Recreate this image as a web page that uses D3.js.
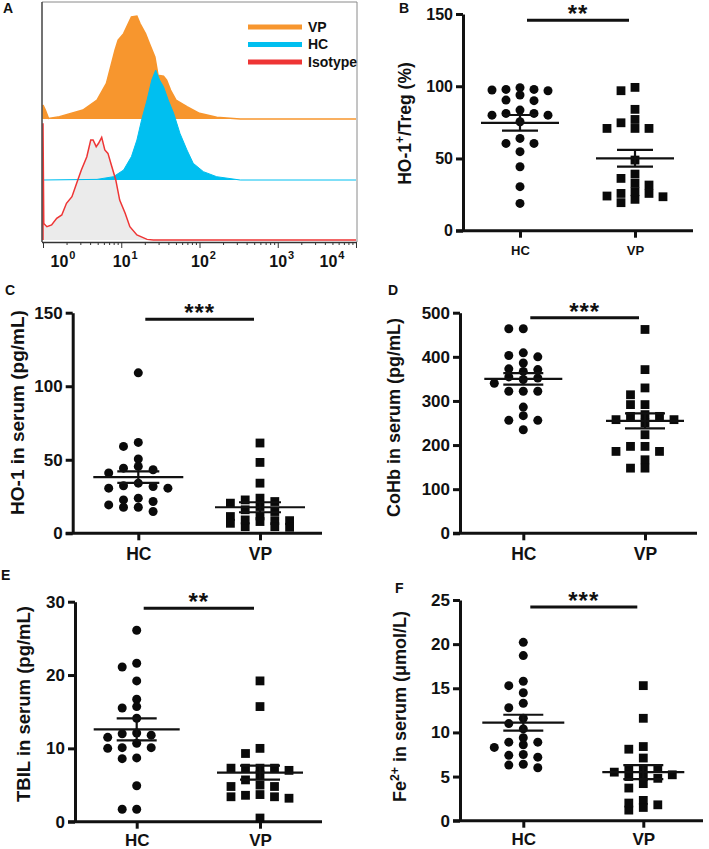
<!DOCTYPE html>
<html><head><meta charset="utf-8">
<script src="https://cdn.jsdelivr.net/npm/d3@7"></script>
<style>body{margin:0;background:#fff}svg{display:block}</style>
</head><body><svg id="c" width="709" height="849"></svg>
<script>
// ---------- Panel A data: [log10 fluorescence, relative count] ----------
const histVP = [[0,0],[0,13.5],[0.03,8.7],[0.07,0.6],[0.21,2.3],[0.51,8.7],[0.69,18.4],[0.81,34.5],[0.92,66.8],[0.96,76.5],[1.03,82.9],[1.09,92.6],[1.13,99],[1.20,100],[1.24,92.6],[1.31,82.9],[1.36,73.2],[1.43,60.3],[1.47,42.6],[1.54,41.6],[1.58,37.7],[1.63,28.1],[1.70,18.4],[1.84,11.9],[2.00,5.5],[2.22,1.6],[2.52,0],[4,0]];
const histHC = [[0,0],[0.69,0.6],[0.90,3.2],[1.03,9.7],[1.13,22.7],[1.20,38.8],[1.26,58.3],[1.33,77.7],[1.39,97.1],[1.44,106.8],[1.49,97.1],[1.54,90.6],[1.60,77.7],[1.67,64.7],[1.75,45.3],[1.84,29.1],[1.92,16.2],[2.05,8.1],[2.22,3.2],[2.52,0],[4,0]];
const histIso = [[0,0],[0,113.3],[0.01,16],[0.05,12.9],[0.11,14.6],[0.175,21],[0.24,24.3],[0.30,35.6],[0.37,42.1],[0.43,55],[0.49,68],[0.56,80.9],[0.61,97.1],[0.64,97.1],[0.68,90.6],[0.71,93.9],[0.75,99.7],[0.79,87.4],[0.83,84.1],[0.88,71.2],[0.93,58.3],[0.98,38.8],[1.05,25.9],[1.11,12.9],[1.20,4.9],[1.33,0.6],[1.41,0],[4,0]];
const histDecades = [0,1,2,3,4];
const legendLabels = ["VP","HC","Isotype"];

// ---------- Scatter panels data ----------
const categories = ["HC","VP"];

const bHC = [97.4,93.9,97.8,99,97.8,96.9,90,90.4,81.2,80,81.2,83.5,80,75.4,60.4,63.9,60.4,54.7,44.3,30.5,18.9];
const bVP = [99.2,96.9,84,74.7,70.8,70.8,70.8,77,48.9,39.2,32.8,31.6,36.2,25.8,23.5,19.4,25.8,21.7,24,27];
const bMean = [74.7,50.1], bSem = [5.4,5.8];
const bTicks = [0,50,100,150];

const cHC = [109.1,61.8,59.1,50.5,44.3,43.2,45.5,41,30.7,30.7,34.1,31.8,32.3,22.7,23.9,21.6,17.7,17.7,19.3,14.8];
const cVP = [61.4,48.2,34.1,21.6,18.2,22.7,23.9,8.6,11.4,14.8,11.8,8.6,4.5,4.5,4.1,8,6.8,9.1,20.5,16];
const cMean = [38.2,17.7], cSem = [3.9,3.4];
const cTicks = [0,50,100,150];

const dHC = [463.6,463.6,409,400,403,386,371,352,354.5,367,372.7,348.5,340,322,322,322,286,266.7,256,256,234.8];
const dVP = [462,371,329.5,314,291.7,291.7,257.6,265,265,257.6,269,223.5,197,185.6,185.6,197,166.7,147.7,147.7,250];
const dMean = [350,255], dSem = [13,17];
const dTicks = [0,100,200,300,400,500];

const eHC = [26.1,21.6,21.1,19.2,16.7,15.7,15.5,14.1,12.1,11.5,11.8,12,10.1,10,10.7,10.1,8.6,8.7,4.9,1.7,1.7];
const eVP = [19.2,15.7,10,9.3,7.3,7.3,7.3,7.3,7,6.4,5.7,5,4.8,4.8,3.6,3.4,3.2,3.4,3.7,0.5];
const eMean = [12.6,6.7], eSem = [1.5,0.95];
const eTicks = [0,10,20,30];

const fHC = [20.2,18.7,15.8,15.3,14.5,12.8,13.3,11.6,10.4,11,8.9,8.6,8.3,8.9,9.4,7.5,7.2,7.4,6.4,6,6.3];
const fVP = [15.3,11.6,8.1,8.4,7.1,5.9,5.9,5.9,5,5,4.2,5.2,4.8,3.7,2.3,1.8,1.2,1.5,2,5.5];
const fMean = [11.1,5.5], fSem = [0.9,0.8];
const fTicks = [0,5,10,15,20,25];

const sigLabels = ["**","***","***","**","***"];
const sigValues = [145.7,145.6,488.6,29.1,24.2];

// ---------- Drawing ----------
const FONT = "Arial, 'Liberation Sans', Helvetica, sans-serif";
const INK = "#111";
const svg = d3.select("#c").style("font-family", FONT);

function panelLetter(t, x, y){
  svg.append("text").attr("x",x).attr("y",y).attr("font-size",14).attr("font-weight","bold").attr("fill",INK).text(t);
}

// ===== Panel A =====
(function(){
  const g = svg.append("g");
  const xLog = d3.scaleLog().domain([1,1e4]).range([43,356]);
  const hY = d3.scaleLinear().domain([0,100]).range([0,103]);
  const fx = d => xLog(Math.pow(10, d[0]));
  const area = base => d3.area().x(fx).y0(base).y1(d => base - hY(d[1]));
  const line = base => d3.line().x(fx).y(d => base - hY(d[1]));
  const baseVP = 119, baseHC = 180, baseIso = 240;
  const cVPc = "#F7962E", cHCc = "#00BFF0", cIsoc = "#EE3535";

  g.append("line").attr("x1",42).attr("x2",357).attr("y1",2).attr("y2",2).attr("stroke","#8a8a8a").attr("stroke-width",1);
  g.append("line").attr("x1",357).attr("x2",357).attr("y1",2).attr("y2",242).attr("stroke","#8a8a8a").attr("stroke-width",1);

  g.append("path").datum(histVP).attr("d",area(baseVP)).attr("fill",cVPc);
  g.append("path").datum(histVP).attr("d",line(baseVP)).attr("fill","none").attr("stroke",cVPc).attr("stroke-width",1.5);
  g.append("path").datum(histIso).attr("d",area(baseIso)).attr("fill","#ebebeb");
  g.append("path").datum(histHC).attr("d",area(baseHC)).attr("fill",cHCc);
  g.append("path").datum(histHC).attr("d",line(baseHC)).attr("fill","none").attr("stroke",cHCc).attr("stroke-width",1);
  g.append("path").datum(histIso).attr("d",line(baseIso)).attr("fill","none").attr("stroke",cIsoc).attr("stroke-width",1.5);

  g.append("line").attr("x1",42).attr("x2",42).attr("y1",2).attr("y2",242).attr("stroke","#444").attr("stroke-width",1.5);

  const tv = [];
  for (let dd=0; dd<4; dd++) for (let m=1; m<10; m++) tv.push(m*Math.pow(10,dd));
  tv.push(1e4);
  const ax = g.append("g").attr("transform","translate(0,242)")
    .call(d3.axisBottom(xLog).tickValues(tv).tickSize(6).tickSizeOuter(0).tickFormat(""));
  ax.select(".domain").attr("stroke","#333").attr("stroke-width",1.5).attr("d","M42,0.5H357");
  ax.selectAll(".tick line").attr("stroke","#333").attr("stroke-width",1)
    .attr("y2", d => { const e = Math.log10(d); return Math.abs(e-Math.round(e))<1e-9 ? 6 : 3; });
  histDecades.forEach(dd => {
    const cx = Math.max(63, Math.min(332, xLog(Math.pow(10,dd)) + 4));
    const t = g.append("text").attr("x",cx).attr("y",267).attr("text-anchor","middle").attr("fill",INK).attr("font-weight","bold");
    t.append("tspan").attr("font-size",16).text("10");
    t.append("tspan").attr("font-size",11).attr("dy",-8).attr("dx",1).text(dd);
  });

  const lc = [cVPc, cHCc, cIsoc];
  const ly = d3.scalePoint().domain(legendLabels).range([27,62]);
  legendLabels.forEach((l,i) => {
    g.append("line").attr("x1",248).attr("x2",302).attr("y1",ly(l)).attr("y2",ly(l)).attr("stroke",lc[i]).attr("stroke-width",5);
    g.append("text").attr("x",308).attr("y",ly(l)+4.5).attr("font-size",14).attr("font-weight","bold").attr("fill",INK).text(l);
  });
  panelLetter("A", 3, 13);
})();

// ===== Scatter panels =====
// Prism-like column swarm: up to +-2 columns; if all are crowded, take the least crowded.
function beeswarm(values, y, x0, step, minDy){
  const idx = values.map((v,i)=>i).sort((a,b)=>values[b]-values[a]);
  const placed = [];
  const out = new Array(values.length);
  const order = [0,-1,1,-2,2];
  idx.forEach(i => {
    const py = y(values[i]);
    let best = null, bestGap = -1;
    for (const k of order){
      const gaps = placed.filter(p => p.k===k).map(p => Math.abs(p.py-py));
      const gap = gaps.length ? Math.min(...gaps) : Infinity;
      if (gap >= minDy){ best = k; break; }
      if (gap > bestGap){ bestGap = gap; best = k; }
    }
    placed.push({k:best,py}); out[i] = {x:x0 + best*step, y:py};
  });
  return out;
}

function scatterPanel(cfg){
  const g = svg.append("g");
  const y = d3.scaleLinear().domain([0, d3.max(cfg.ticks)]).range([cfg.y0, cfg.yTop]);
  const x = d3.scalePoint().domain(categories).range([cfg.xHC, cfg.xVP]);

  const ya = g.append("g").attr("transform",`translate(${cfg.axisX},0)`)
    .call(d3.axisLeft(y).tickValues(cfg.ticks).tickSize(7).tickSizeOuter(0).tickPadding(3));
  ya.select(".domain").attr("stroke",INK).attr("stroke-width",3);
  ya.selectAll(".tick line").attr("stroke",INK).attr("stroke-width",3);
  ya.selectAll(".tick text").attr("font-size",cfg.tickFs).attr("font-weight","bold").attr("fill",INK).attr("font-family",FONT);

  g.append("line").attr("x1",cfg.axisX-7).attr("x2",cfg.xEnd).attr("y1",y(0)).attr("y2",y(0)).attr("stroke",INK).attr("stroke-width",3);
  const xa = g.append("g").attr("transform",`translate(0,${y(0)})`)
    .call(d3.axisBottom(x).tickSize(7).tickSizeOuter(0).tickPadding(cfg.catPad));
  xa.select(".domain").remove();
  xa.selectAll(".tick line").attr("stroke",INK).attr("stroke-width",3);
  xa.selectAll(".tick text").attr("font-size",cfg.catFs).attr("font-weight","bold").attr("fill",INK).attr("font-family",FONT);

  const t = g.append("text").attr("transform",`translate(${cfg.titleX},${cfg.titleY}) rotate(-90)`)
    .attr("text-anchor","middle").attr("dy","0.36em").attr("font-size",cfg.titleFs).attr("font-weight","bold").attr("fill",INK);
  cfg.title.forEach(p => {
    const s = t.append("tspan").text(p[0]);
    if (p[1]==="sup") s.attr("font-size",cfg.titleFs*0.68).attr("dy",-cfg.titleFs*0.42);
    if (p[1]==="after") s.attr("dy",cfg.titleFs*0.42);
  });

  const hcPts = beeswarm(cfg.hc, y, x("HC"), cfg.step, 7);
  const vpPts = beeswarm(cfg.vp, y, x("VP"), cfg.step, 7);
  g.selectAll("circle.pt").data(hcPts).join("circle").attr("class","pt")
    .attr("cx",d=>d.x).attr("cy",d=>d.y).attr("r",4.5).attr("fill","#0a0a0a");
  g.selectAll("rect.pt").data(vpPts).join("rect").attr("class","pt")
    .attr("x",d=>d.x-4.4).attr("y",d=>d.y-4.4).attr("width",8.8).attr("height",8.8).attr("fill","#0a0a0a");

  categories.forEach((c,i) => {
    const cx = x(c), m = cfg.mean[i], s = cfg.sem[i];
    const st = l => l.attr("stroke",INK).attr("stroke-width",2.2);
    st(g.append("line").attr("x1",cx-cfg.mw).attr("x2",cx+cfg.mw).attr("y1",y(m)).attr("y2",y(m)));
    st(g.append("line").attr("x1",cx).attr("x2",cx).attr("y1",y(m-s)).attr("y2",y(m+s)));
    [m-s, m+s].forEach(v => st(g.append("line").attr("x1",cx-cfg.cw).attr("x2",cx+cfg.cw).attr("y1",y(v)).attr("y2",y(v))));
  });

  const sy = y(cfg.sigV);
  g.append("line").attr("x1",x("HC")+7).attr("x2",x("VP")-6).attr("y1",sy).attr("y2",sy).attr("stroke",INK).attr("stroke-width",3);
  g.append("text").attr("x",(x("HC")+x("VP"))/2+0.5).attr("y",sy+2).attr("text-anchor","middle")
    .attr("font-size",24).attr("font-weight","bold").attr("letter-spacing",1).attr("fill",INK).text(cfg.sig);

  panelLetter(cfg.letter, cfg.lx, cfg.ly);
}

scatterPanel({letter:"B", lx:399, ly:13, hc:bHC, vp:bVP, mean:bMean, sem:bSem, ticks:bTicks,
  axisX:463, yTop:14, y0:230.7, xEnd:693, xHC:520, xVP:635, step:14, tickFs:16, catFs:13, catPad:8.5,
  title:[["HO-1"],["+","sup"],["/Treg (%)","after"]], titleFs:17.5, titleX:405, titleY:123.5,
  mw:39, cw:18, sigV:sigValues[0], sig:sigLabels[0]});

scatterPanel({letter:"C", lx:5, ly:295, hc:cHC, vp:cVP, mean:cMean, sem:cSem, ticks:cTicks,
  axisX:72.7, yTop:312.7, y0:533.3, xEnd:322, xHC:138.3, xVP:260, step:14.8, tickFs:17, catFs:17.5, catPad:7.5,
  title:[["HO-1 in serum (pg/mL)"]], titleFs:19, titleX:17, titleY:412.5,
  mw:45, cw:21, sigV:sigValues[1], sig:sigLabels[1]});

scatterPanel({letter:"D", lx:388, ly:295, hc:dHC, vp:dVP, mean:dMean, sem:dSem, ticks:dTicks,
  axisX:460, yTop:312.7, y0:533.3, xEnd:697, xHC:523.3, xVP:645, step:14.5, tickFs:17, catFs:17.5, catPad:7.5,
  title:[["CoHb in serum (pg/mL)"]], titleFs:18, titleX:393.3, titleY:417.5,
  mw:39, cw:20, sigV:sigValues[2], sig:sigLabels[2]});

scatterPanel({letter:"E", lx:1, ly:580, hc:eHC, vp:eVP, mean:eMean, sem:eSem, ticks:eTicks,
  axisX:75, yTop:601.7, y0:821.7, xEnd:322, xHC:136.7, xVP:260, step:14.5, tickFs:17, catFs:17, catPad:5.5,
  title:[["TBIL in serum (pg/mL)"]], titleFs:18.5, titleX:23.3, titleY:704,
  mw:43, cw:20, sigV:sigValues[3], sig:sigLabels[3]});

scatterPanel({letter:"F", lx:395, ly:593, hc:fHC, vp:fVP, mean:fMean, sem:fSem, ticks:fTicks,
  axisX:460, yTop:600, y0:820.7, xEnd:703, xHC:523.3, xVP:643.3, step:14.5, tickFs:17, catFs:17, catPad:5.5,
  title:[["Fe"],["2+","sup"],[" in serum (μmol/L)","after"]], titleFs:18, titleX:400, titleY:706.5,
  mw:41, cw:20, sigV:sigValues[4], sig:sigLabels[4]});
</script></body></html>
